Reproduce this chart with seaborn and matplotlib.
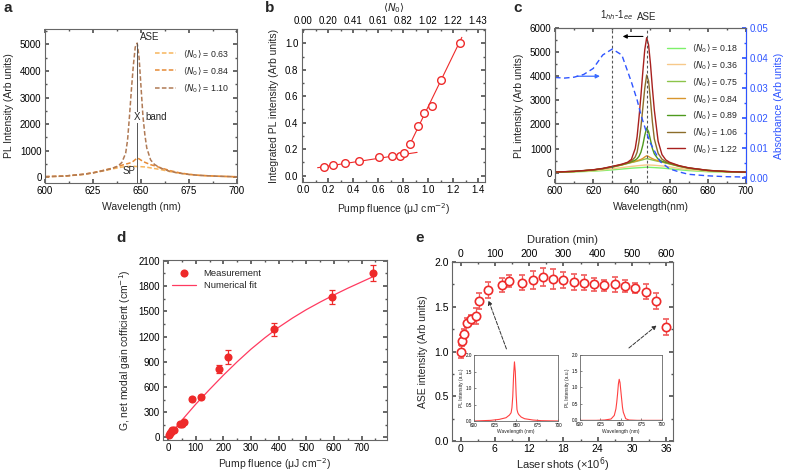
import numpy as np
import pandas as pd
import matplotlib
matplotlib.use('Agg')  # no display
import matplotlib.pyplot as plt
import seaborn as sns
from matplotlib.ticker import MultipleLocator, FormatStrFormatter

# ---------------- panel a: PL spectra ----------------
wl_a = [600, 610, 620, 625, 630, 635, 638, 640, 642, 643, 644, 645, 646, 647, 648,
        649, 650, 651, 652, 653, 655, 657, 660, 665, 670, 675, 680, 690, 700]
pl_a_063 = [15, 40, 100, 160, 230, 310, 350, 380, 395, 400, 405, 410, 410, 405, 400,
            398, 395, 390, 385, 375, 350, 325, 290, 210, 150, 105, 70, 35, 15]
pl_a_084 = [20, 40, 110, 170, 250, 340, 400, 450, 490, 510, 530, 560, 600, 660, 720,
            690, 640, 600, 560, 530, 470, 430, 360, 250, 165, 110, 70, 35, 15]
pl_a_110 = [20, 40, 110, 160, 240, 330, 420, 550, 900, 1400, 2300, 3300, 4200, 4900, 5050,
            4500, 3400, 2300, 1600, 1100, 650, 480, 350, 220, 150, 100, 70, 35, 15]
labels_a = ['0.63', '0.84', '1.10']
colors_a = ['#f7b55c', '#e68a35', '#b07a55']

# ---------------- panel b: integrated PL ----------------
fluence_b = [0.17, 0.235, 0.333, 0.445, 0.605, 0.712, 0.773, 0.81, 0.856, 0.917, 0.97, 1.032, 1.10, 1.253]
intpl_b = [0.063, 0.078, 0.093, 0.113, 0.139, 0.152, 0.149, 0.174, 0.237, 0.375, 0.476, 0.526, 0.723, 1.0]
fit_low_x = [0.115, 0.912]
fit_low_y = [0.060, 0.176]
fit_high_x = [0.845, 1.27]
fit_high_y = [0.219, 1.045]
n0_ticks = [0.0, 0.2, 0.4, 0.6, 0.8, 1.0, 1.2, 1.4]
n0_labels = ['0.00', '0.20', '0.41', '0.61', '0.82', '1.02', '1.22', '1.43']

# ---------------- panel c: PL vs <N0> + absorbance ----------------
wl_c = [600, 610, 620, 625, 630, 635, 638, 640, 642, 643, 644, 645, 646, 647, 648,
        649, 650, 651, 652, 654, 656, 658, 660, 665, 670, 680, 690, 700]
pl_c = {
    '0.18': [15, 30, 60, 85, 115, 150, 170, 185, 195, 200, 205, 210, 215, 220, 225,
             222, 218, 214, 210, 200, 190, 175, 160, 120, 85, 40, 20, 10],
    '0.36': [20, 40, 80, 115, 160, 210, 240, 260, 275, 285, 292, 300, 308, 315, 320,
             318, 314, 310, 305, 292, 278, 260, 240, 175, 125, 60, 30, 15],
    '0.75': [25, 50, 110, 160, 230, 320, 380, 420, 455, 475, 495, 515, 535, 560, 580,
             565, 545, 525, 505, 470, 440, 400, 360, 260, 180, 85, 40, 20],
    '0.84': [25, 50, 110, 160, 230, 320, 385, 430, 470, 495, 520, 550, 590, 650, 700,
             670, 620, 580, 545, 490, 450, 410, 370, 265, 185, 90, 45, 20],
    '0.89': [25, 50, 110, 165, 240, 330, 395, 450, 520, 580, 680, 850, 1150, 1550, 1850,
             1700, 1350, 1000, 780, 560, 470, 420, 380, 270, 190, 90, 45, 20],
    '1.06': [25, 50, 115, 170, 250, 340, 410, 480, 650, 850, 1300, 1900, 2700, 3500, 4050,
             3800, 3000, 2100, 1400, 800, 560, 460, 400, 280, 195, 95, 45, 20],
    '1.22': [25, 55, 120, 175, 260, 350, 430, 550, 1000, 1500, 2300, 3200, 4200, 5100, 5600,
             5300, 4500, 3500, 2600, 1300, 750, 530, 430, 290, 200, 95, 45, 20],
}
colors_c = ['#7ef06a', '#f7c98a', '#8cc44a', '#d8962e', '#4e9a1e', '#8c6d2a', '#a8201e']
wl_abs = [600, 605, 610, 615, 620, 625, 630, 635, 640, 643, 645, 648, 650, 655, 660, 665, 670, 680, 690, 700]
absorb = [0.0335, 0.0333, 0.0336, 0.0345, 0.0365, 0.041, 0.043, 0.041, 0.032, 0.026,
          0.021, 0.015, 0.0115, 0.0055, 0.003, 0.002, 0.0012, 0.0007, 0.0004, 0.0003]

# ---------------- panel d: modal gain ----------------
fluence_d = [3, 8, 12, 16, 20, 42, 52, 57, 88, 121, 185, 217, 382, 593, 742]
gain_d = [30, 50, 70, 85, 95, 155, 165, 180, 456, 483, 817, 955, 1285, 1670, 1960]
gain_err = [15, 15, 15, 15, 15, 20, 20, 20, 25, 25, 50, 85, 80, 80, 95]
fit_d_x = [0, 50, 100, 150, 200, 250, 300, 350, 400, 450, 500, 550, 600, 650, 700, 750]
fit_d_y = [0, 205, 395, 570, 740, 900, 1050, 1185, 1310, 1420, 1520, 1610, 1695, 1775, 1850, 1925]

# ---------------- panel e: stability ----------------
shots_e = [0, 0.3, 0.6, 1.2, 1.8, 2.7, 3.3, 4.8, 7.2, 8.4, 10.8, 12.6, 14.4, 16.2, 18.0,
           19.8, 21.6, 23.4, 25.2, 27.0, 28.8, 30.6, 32.4, 34.2, 36.0]
ase_e = [1.00, 1.12, 1.20, 1.32, 1.36, 1.40, 1.56, 1.69, 1.74, 1.79, 1.77, 1.80, 1.83, 1.81, 1.80,
         1.78, 1.77, 1.75, 1.74, 1.75, 1.73, 1.71, 1.67, 1.56, 1.27]
ase_err = [0.07, 0.06, 0.05, 0.05, 0.05, 0.09, 0.09, 0.09, 0.08, 0.07, 0.08, 0.10, 0.10, 0.11, 0.09,
           0.09, 0.08, 0.07, 0.06, 0.08, 0.07, 0.06, 0.08, 0.09, 0.09]
wl_in = [600, 620, 630, 638, 642, 644, 645, 646, 647, 648, 649, 650, 651, 652, 653, 656, 660, 670, 680, 700]
inset1 = [0.0, 0.02, 0.05, 0.10, 0.18, 0.25, 0.40, 0.75, 1.40, 1.80, 1.50, 0.80, 0.35, 0.25, 0.20,
          0.12, 0.07, 0.03, 0.01, 0.0]
inset2 = [0.0, 0.0, 0.01, 0.04, 0.15, 0.35, 0.55, 0.80, 1.10, 1.25, 1.15, 0.90, 0.65, 0.40, 0.25,
          0.05, 0.01, 0.0, 0.0, 0.0]

# ---------------- style ----------------
sns.set_theme(style='ticks')
plt.rcParams['font.family'] = ['Liberation Sans', 'DejaVu Sans']
plt.rcParams.update({
    'axes.edgecolor': '#666666', 'axes.linewidth': 0.8,
    'xtick.direction': 'in', 'ytick.direction': 'in',
    'xtick.major.size': 3, 'ytick.major.size': 3,
    'xtick.minor.size': 1.5, 'ytick.minor.size': 1.5,
    'xtick.color': '#555555', 'ytick.color': '#555555',
    'xtick.labelcolor': 'black', 'ytick.labelcolor': 'black',
    'xtick.labelsize': 7, 'ytick.labelsize': 7, 'axes.labelsize': 7.5,
    'xtick.major.pad': 2.5, 'ytick.major.pad': 2.5,
    'legend.fontsize': 6.5,
})
RED = '#ee2a2a'

fig = plt.figure(figsize=(7.88, 4.74), dpi=100)


def box_ticks(ax, top=True, right=True):
    ax.tick_params(which='both', top=top, right=right)


# panel a
ax_a = fig.add_axes([0.0571, 0.6139, 0.2437, 0.3249])
for vals, lab, col in zip([pl_a_063, pl_a_084, pl_a_110], labels_a, colors_a):
    sns.lineplot(x=wl_a, y=vals, ax=ax_a, color=col, lw=1.1,
                 label=r'$\langle N_0 \rangle$ = ' + lab)
for ln in ax_a.get_lines():
    ln.set_linestyle((0, (3, 1.5)))
ax_a.vlines(648, -220, 5050, color='#555555', lw=0.7)
ax_a.text(649.5, 5150, 'ASE', fontsize=7)
ax_a.text(648, 2250, 'X', fontsize=7, ha='center', va='center',
          bbox=dict(facecolor='white', edgecolor='none', pad=0.5))
ax_a.text(652.3, 2250, 'band', fontsize=7, va='center')
ax_a.text(643.5, 60, 'SP', fontsize=7, ha='center', va='bottom')
ax_a.set_xlim(600, 700)
ax_a.set_ylim(-220, 5580)
ax_a.xaxis.set_major_locator(MultipleLocator(25))
ax_a.xaxis.set_minor_locator(MultipleLocator(12.5))
ax_a.yaxis.set_major_locator(MultipleLocator(1000))
ax_a.yaxis.set_minor_locator(MultipleLocator(500))
box_ticks(ax_a)
ax_a.set_xlabel('Wavelength (nm)')
ax_a.set_ylabel('PL Intensity (Arb units)')
leg = ax_a.legend(loc='upper right', bbox_to_anchor=(1.0, 0.93), frameon=False,
                  handlelength=2.4, labelspacing=0.6, fontsize=6.3)
for h in leg.get_lines():
    h.set_linestyle((0, (3, 1.5)))

# panel b
ax_b = fig.add_axes([0.3832, 0.616, 0.2322, 0.3228])
sns.lineplot(x=fit_low_x, y=fit_low_y, ax=ax_b, color=RED, lw=0.8)
sns.lineplot(x=fit_high_x, y=fit_high_y, ax=ax_b, color=RED, lw=0.8)
ax_b.plot(fluence_b, intpl_b, 'o', mfc='white', mec=RED, mew=1.0, ms=5.5, ls='none')
ax_b.set_xlim(-0.01, 1.455)
ax_b.set_ylim(-0.048, 1.108)
ax_b.xaxis.set_major_locator(MultipleLocator(0.2))
ax_b.xaxis.set_minor_locator(MultipleLocator(0.1))
ax_b.yaxis.set_major_locator(MultipleLocator(0.2))
ax_b.yaxis.set_minor_locator(MultipleLocator(0.1))
ax_b.xaxis.set_major_formatter(FormatStrFormatter('%.1f'))
ax_b.yaxis.set_major_formatter(FormatStrFormatter('%.1f'))
ax_b.tick_params(which='both', right=True)
sec_b = ax_b.secondary_xaxis('top')
sec_b.set_xticks(n0_ticks, labels=n0_labels)
sec_b.xaxis.set_minor_locator(MultipleLocator(0.1))
sec_b.tick_params(which='both', direction='in', color='#555555')
sec_b.set_xlabel(r'$\langle N_0 \rangle$', fontsize=7.5, labelpad=3)
ax_b.set_xlabel(r'Pump fluence (μJ cm$^{-2}$)')
ax_b.set_ylabel('Integrated PL intensity (Arb units)')

# panel c
ax_c = fig.add_axes([0.7043, 0.6139, 0.2424, 0.327])
for (lab, vals), col in zip(pl_c.items(), colors_c):
    sns.lineplot(x=wl_c, y=vals, ax=ax_c, color=col, lw=1.0,
                 label=r'$\langle N_0 \rangle$ = ' + lab)
ax_c.axvline(630, color='#555555', lw=0.8, ls=(0, (2.5, 2)))
ax_c.axvline(648, color='#555555', lw=0.8, ls=(0, (2.5, 2)))
ax_c.annotate('', xy=(634, 5650), xytext=(647.5, 5650),
              arrowprops=dict(arrowstyle='-|>', color='black', lw=0.8, mutation_scale=6))
ax_c.annotate('', xy=(625, 4000), xytext=(610, 4000),
              arrowprops=dict(arrowstyle='-|>', color='#3b6cff', lw=0.9, mutation_scale=6))
ax_c.text(632.5, 6250, r'1$_{hh}$-1$_{ee}$', fontsize=7, ha='center', va='bottom')
ax_c.text(648, 6250, 'ASE', fontsize=7, ha='center', va='bottom')
ax_c.set_xlim(600, 700)
ax_c.set_ylim(-430, 6000)
ax_c.xaxis.set_major_locator(MultipleLocator(20))
ax_c.xaxis.set_minor_locator(MultipleLocator(10))
ax_c.yaxis.set_major_locator(MultipleLocator(1000))
ax_c.yaxis.set_minor_locator(MultipleLocator(500))
ax_c.tick_params(which='both', top=True)
ax_c.set_xlabel('Wavelength(nm)')
ax_c.set_ylabel('PL intensity (Arb units)')
ax_c.legend(loc='upper right', bbox_to_anchor=(1.0, 0.96), frameon=False,
            handlelength=2.0, labelspacing=0.55, fontsize=6.3)
ax_c2 = ax_c.twinx()
sns.lineplot(x=wl_abs, y=absorb, ax=ax_c2, color='#2f55ff', lw=1.0)
ax_c2.get_lines()[0].set_linestyle((0, (4, 2.5)))
ax_c2.set_ylim(-0.0017, 0.05)
ax_c2.yaxis.set_major_locator(MultipleLocator(0.01))
ax_c2.yaxis.set_minor_locator(MultipleLocator(0.005))
ax_c2.yaxis.set_major_formatter(FormatStrFormatter('%.2f'))
ax_c2.tick_params(which='both', direction='in', colors='#2f55ff', labelcolor='#2f55ff')
ax_c2.spines['right'].set_color('#2f55ff')
ax_c2.set_ylabel('Absorbance (Arb units)', color='#2f55ff')

# panel d
ax_d = fig.add_axes([0.2069, 0.0717, 0.2843, 0.3797])
sns.lineplot(x=fit_d_x, y=fit_d_y, ax=ax_d, color='#ff3a60', lw=0.9, label='Numerical fit')
ax_d.errorbar(fluence_d, gain_d, yerr=gain_err, fmt='none', ecolor=RED, elinewidth=0.9,
              capsize=2, capthick=0.9)
sns.scatterplot(x=fluence_d, y=gain_d, ax=ax_d, color=RED, s=34, linewidth=0,
                label='Measurement', zorder=3)
ax_d.set_xlim(-18, 792)
ax_d.set_ylim(-30, 2110)
ax_d.xaxis.set_major_locator(MultipleLocator(100))
ax_d.xaxis.set_minor_locator(MultipleLocator(50))
ax_d.yaxis.set_major_locator(MultipleLocator(300))
ax_d.yaxis.set_minor_locator(MultipleLocator(150))
box_ticks(ax_d)
ax_d.set_xlabel(r'Pump fluence (μJ cm$^{-2}$)', labelpad=2)
ax_d.set_ylabel(r'G, net modal gain cofficient (cm$^{-1}$)')
h, l = ax_d.get_legend_handles_labels()
ax_d.legend(h[::-1], l[::-1], loc='upper left', frameon=False, handlelength=2.6,
            fontsize=6.8, labelspacing=0.4)

# panel e
ax_e = fig.add_axes([0.5736, 0.0696, 0.2805, 0.3776])
ax_e.errorbar(shots_e, ase_e, yerr=ase_err, fmt='o', mfc='white', mec=RED, mew=1.2,
              ms=6, ecolor='#f05a5a', elinewidth=0.9, capsize=2, capthick=0.9)
ax_e.annotate('', xy=(4.73, 1.60), xytext=(8.2, 1.0),
              arrowprops=dict(arrowstyle='-|>', color='#333333', lw=0.7, ls='--',
                              mutation_scale=6))
ax_e.annotate('', xy=(34.7, 1.31), xytext=(29.1, 1.02),
              arrowprops=dict(arrowstyle='-|>', color='#333333', lw=0.7, ls='--',
                              mutation_scale=6))
ax_e.set_xlim(-1.5, 37.2)
ax_e.set_ylim(0, 2.0)
ax_e.xaxis.set_major_locator(MultipleLocator(6))
ax_e.xaxis.set_minor_locator(MultipleLocator(3))
ax_e.yaxis.set_major_locator(MultipleLocator(0.5))
ax_e.yaxis.set_minor_locator(MultipleLocator(0.25))
ax_e.tick_params(which='both', right=True, labelsize=7.5)
sec_e = ax_e.secondary_xaxis('top', functions=(lambda s: s / 0.06, lambda m: m * 0.06))
sec_e.xaxis.set_major_locator(MultipleLocator(100))
sec_e.xaxis.set_minor_locator(MultipleLocator(50))
sec_e.tick_params(which='both', direction='in', color='#555555', labelsize=7.5)
sec_e.set_xlabel('Duration (min)', fontsize=8, labelpad=4)
ax_e.set_xlabel(r'Laser shots (×10$^6$)', fontsize=8, labelpad=1)
ax_e.set_ylabel('ASE intensity (Arb units)', fontsize=7.5)

for pos, vals in zip([[0.6015, 0.1118, 0.107, 0.1386], [0.736, 0.1132, 0.1037, 0.1386]],
                     [inset1, inset2]):
    axi = fig.add_axes(pos)
    sns.lineplot(x=wl_in, y=vals, ax=axi, color='#ff4040', lw=0.8)
    axi.set_xlim(600, 700)
    axi.set_ylim(0, 2.0)
    axi.set_xticks([600, 625, 650, 675, 700])
    axi.set_yticks([0.0, 0.5, 1.0, 1.5, 2.0])
    axi.yaxis.set_major_formatter(FormatStrFormatter('%.1f'))
    axi.tick_params(labelsize=3.3, length=1.5, pad=1.5, width=0.5)
    for sp in axi.spines.values():
        sp.set_linewidth(0.6)
    axi.set_xlabel('Wavelength (nm)', fontsize=3.5, labelpad=1)
    axi.set_ylabel('PL Intensity (a.u.)', fontsize=3.5, labelpad=1)

# panel letters
for x, y, s in [(0.004, 0.998, 'a'), (0.336, 0.998, 'b'), (0.652, 0.998, 'c'),
                (0.148, 0.512, 'd'), (0.527, 0.512, 'e')]:
    fig.text(x, y, s, fontsize=11, fontweight='bold', va='top')

fig.savefig('out.png', dpi=100)
